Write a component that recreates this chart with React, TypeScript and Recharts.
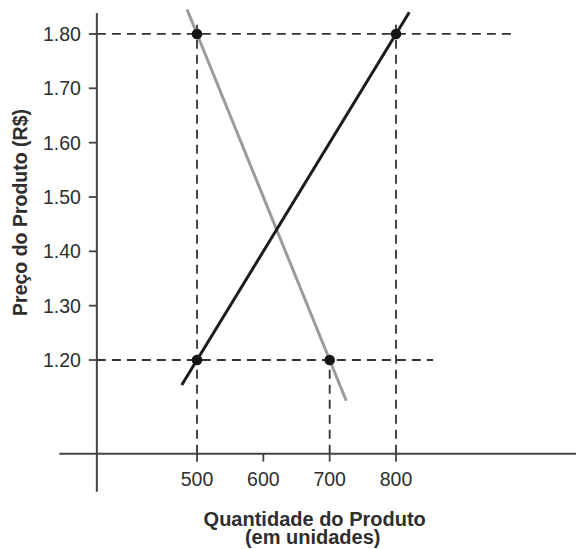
import React from 'react';
import { ComposedChart, Line, XAxis, YAxis, ReferenceLine, ReferenceDot, Label } from 'recharts';

// Data
const quantityTicks = [500, 600, 700, 800];
const priceTicks = [1.2, 1.3, 1.4, 1.5, 1.6, 1.7, 1.8];
const supplyLine = [
  { q: 477, price: 1.154 },
  { q: 820, price: 1.84 },
];
const demandLine = [
  { q: 485, price: 1.845 },
  { q: 725, price: 1.125 },
];
const markedPoints = [
  { q: 500, price: 1.8 },
  { q: 800, price: 1.8 },
  { q: 500, price: 1.2 },
  { q: 700, price: 1.2 },
];
const horizontalGuides = [
  { price: 1.8, qFrom: 349, qTo: 980 },
  { price: 1.2, qFrom: 349, qTo: 856 },
];
const verticalGuides = [
  { q: 500, pFrom: 1.0276, pTo: 1.826 },
  { q: 800, pFrom: 1.0276, pTo: 1.826 },
  { q: 700, pFrom: 1.0276, pTo: 1.2 },
];
const xDomain = [349, 1050];
const yDomain = [1.0276, 1.85];
const xAxisCross = { price: 1.0276, qFrom: 292.4, qTo: 1075 };
const yAxisCross = { q: 349, pFrom: 0.9577, pTo: 1.8387 };

const FONT = '"Liberation Sans", Arial, Helvetica, sans-serif';
const TEXT = '#2e2e2e';
const AXIS = '#444444';
const GUIDE = '#333333';

const XTitle = () => (
  <text fontFamily={FONT} fontWeight="bold" fontSize={20} fill={TEXT} textAnchor="middle">
    <tspan x={314.7} y={526}>Quantidade do Produto</tspan>
    <tspan x={312.7} y={543.5}>(em unidades)</tspan>
  </text>
);

const YTitle = () => (
  <text
    x={26.5}
    y={212.5}
    transform="rotate(-90, 26.5, 212.5)"
    fontFamily={FONT}
    fontWeight="bold"
    fontSize={19.5}
    fill={TEXT}
    textAnchor="middle"
  >
    Preço do Produto (R$)
  </text>
);

export default function App() {
  return (
    <div style={{ position: 'absolute', left: 0, top: 0, background: '#fff' }}>
      <ComposedChart
        width={576}
        height={549}
        margin={{ top: 6.8, right: 14.15, bottom: 55.3, left: 0 }}
      >
        <XAxis
          type="number"
          dataKey="q"
          domain={xDomain}
          allowDataOverflow
          ticks={quantityTicks}
          axisLine={false}
          tickLine={{ stroke: AXIS, strokeWidth: 1.8 }}
          tickSize={8}
          tickMargin={10}
          height={40}
          tick={{ fontFamily: FONT, fontSize: 19.5, fill: TEXT }}
          interval={0}
        >
          <Label content={() => <XTitle />} />
        </XAxis>
        <YAxis
          type="number"
          dataKey="price"
          domain={yDomain}
          allowDataOverflow
          ticks={priceTicks}
          tickFormatter={(v: number) => v.toFixed(2)}
          axisLine={false}
          tickLine={{ stroke: AXIS, strokeWidth: 1.8 }}
          tickSize={8}
          tickMargin={8}
          width={96.84}
          tick={{ fontFamily: FONT, fontSize: 19.5, fill: TEXT }}
          interval={0}
        >
          <Label content={() => <YTitle />} />
        </YAxis>

        {horizontalGuides.map((g, i) => (
          <ReferenceLine
            key={'h' + i}
            segment={[
              { x: g.qFrom, y: g.price },
              { x: g.qTo, y: g.price },
            ]}
            stroke={GUIDE}
            strokeWidth={1.8}
            strokeDasharray="9 6"
            ifOverflow="visible"
          />
        ))}
        {verticalGuides.map((g, i) => (
          <ReferenceLine
            key={'v' + i}
            segment={[
              { x: g.q, y: g.pFrom },
              { x: g.q, y: g.pTo },
            ]}
            stroke={GUIDE}
            strokeWidth={1.8}
            strokeDasharray="9 6"
            ifOverflow="visible"
          />
        ))}
        <ReferenceLine
          segment={[
            { x: xAxisCross.qFrom, y: xAxisCross.price },
            { x: xAxisCross.qTo, y: xAxisCross.price },
          ]}
          stroke={AXIS}
          strokeWidth={2}
          ifOverflow="visible"
        />
        <ReferenceLine
          segment={[
            { x: yAxisCross.q, y: yAxisCross.pFrom },
            { x: yAxisCross.q, y: yAxisCross.pTo },
          ]}
          stroke={AXIS}
          strokeWidth={2}
          ifOverflow="visible"
        />

        <Line
          data={demandLine}
          dataKey="price"
          type="linear"
          stroke="#9b9b9b"
          strokeWidth={3}
          dot={false}
          activeDot={false}
          isAnimationActive={false}
        />
        <Line
          data={supplyLine}
          dataKey="price"
          type="linear"
          stroke="#1c1c1c"
          strokeWidth={3}
          dot={false}
          activeDot={false}
          isAnimationActive={false}
        />

        {markedPoints.map((p, i) => (
          <ReferenceDot
            key={'d' + i}
            x={p.q}
            y={p.price}
            r={5.3}
            fill="#151515"
            stroke="none"
            ifOverflow="visible"
          />
        ))}
      </ComposedChart>
    </div>
  );
}
